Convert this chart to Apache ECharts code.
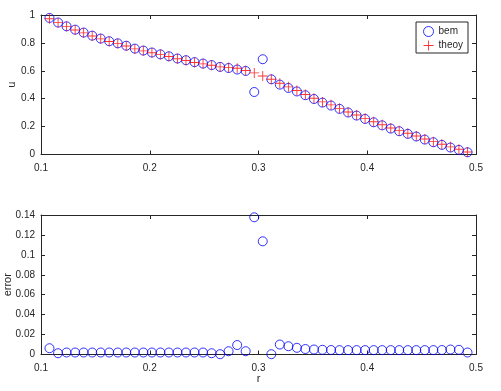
<!DOCTYPE html>
<html>
<head>
<meta charset="utf-8">
<script src="https://cdn.jsdelivr.net/npm/echarts@6/dist/echarts.min.js"></script>
<style>
html,body{margin:0;padding:0;background:#fff;}
#chart{width:501px;height:391px;}
</style>
</head>
<body>
<div id="chart"></div>
<script>
// radial positions r
var rValues = [
  0.1078, 0.1157, 0.1235, 0.1314, 0.1392, 0.1471, 0.1549, 0.1627, 0.1706, 0.1784,
  0.1863, 0.1941, 0.2020, 0.2098, 0.2176, 0.2255, 0.2333, 0.2412, 0.2490, 0.2569,
  0.2647, 0.2725, 0.2804, 0.2882, 0.2961, 0.3039, 0.3118, 0.3196, 0.3275, 0.3353,
  0.3431, 0.3510, 0.3588, 0.3667, 0.3745, 0.3824, 0.3902, 0.3980, 0.4059, 0.4137,
  0.4216, 0.4294, 0.4373, 0.4451, 0.4529, 0.4608, 0.4686, 0.4765, 0.4843, 0.4922
];
// BEM solution u
var bemValues = [
  0.979, 0.946, 0.919, 0.895, 0.874, 0.852, 0.831, 0.812, 0.797, 0.780,
  0.759, 0.745, 0.731, 0.718, 0.704, 0.688, 0.676, 0.662, 0.652, 0.641,
  0.628, 0.620, 0.609, 0.599, 0.448, 0.683, 0.539, 0.501, 0.477, 0.452,
  0.425, 0.398, 0.372, 0.351, 0.327, 0.301, 0.279, 0.255, 0.231, 0.209,
  0.186, 0.167, 0.148, 0.129, 0.107, 0.088, 0.069, 0.050, 0.033, 0.016
];
// theoretical solution u
var theoryValues = [
  0.973, 0.945, 0.917, 0.893, 0.872, 0.850, 0.829, 0.810, 0.795, 0.778,
  0.757, 0.743, 0.729, 0.716, 0.702, 0.686, 0.674, 0.660, 0.650, 0.640,
  0.628, 0.623, 0.618, 0.602, 0.585, 0.563, 0.539, 0.511, 0.485, 0.459,
  0.430, 0.403, 0.377, 0.356, 0.331, 0.305, 0.283, 0.259, 0.235, 0.213,
  0.190, 0.171, 0.152, 0.133, 0.111, 0.092, 0.073, 0.055, 0.038, 0.018
];
// absolute error |bem - theory|
var errorValues = [
  0.0063, 0.0013, 0.0020, 0.0020, 0.0020, 0.0020, 0.0020, 0.0020, 0.0020, 0.0020,
  0.0020, 0.0020, 0.0020, 0.0020, 0.0020, 0.0020, 0.0020, 0.0020, 0.0020, 0.0013,
  0.0003, 0.0033, 0.0095, 0.0033, 0.1377, 0.1136, 0.0003, 0.0100, 0.0083, 0.0067,
  0.0055, 0.0050, 0.0047, 0.0045, 0.0044, 0.0044, 0.0044, 0.0044, 0.0044, 0.0044,
  0.0044, 0.0044, 0.0044, 0.0044, 0.0044, 0.0044, 0.0045, 0.0050, 0.0047, 0.0020
];
var xTicks = [0.1, 0.2, 0.3, 0.4, 0.5];
var uTicks = [0, 0.2, 0.4, 0.6, 0.8, 1];
var errTicks = [0, 0.02, 0.04, 0.06, 0.08, 0.1, 0.12, 0.14];

function pairs(xs, ys) { return xs.map(function (x, i) { return [x, ys[i]]; }); }

var FONT = 'Liberation Sans';
var AX = '#262626';
var plusPath = 'path://M4.55,0h0.9v10h-0.9zM0,4.55h10v0.9h-10z';

function xAxisCfg(gridIndex, showLabels, name) {
  return {
    type: 'value', gridIndex: gridIndex, min: xTicks[0], max: xTicks[xTicks.length - 1], interval: 0.1,
    position: 'bottom',
    axisLine: { show: true, onZero: false, lineStyle: { color: AX, width: 1 } },
    axisTick: { show: true, inside: true, length: 4, lineStyle: { color: AX } },
    axisLabel: { show: showLabels, color: AX, fontFamily: FONT, fontSize: 10, margin: 9,
      formatter: function (v) { return String(+v.toFixed(2)); } },
    splitLine: { show: false },
    name: name || '', nameLocation: 'middle', nameGap: 19, nameMoveOverlap: false,
    nameTextStyle: { color: AX, fontFamily: FONT, fontSize: 11 }
  };
}
function xTopCfg(gridIndex) {
  var c = xAxisCfg(gridIndex, false, '');
  c.position = 'top';
  return c;
}
function yAxisCfg(gridIndex, ticks, step, name, gap) {
  return {
    type: 'value', gridIndex: gridIndex, min: ticks[0], max: ticks[ticks.length - 1], interval: step,
    position: 'left',
    axisLine: { show: true, onZero: false, lineStyle: { color: AX, width: 1 } },
    axisTick: { show: true, inside: true, length: 4, lineStyle: { color: AX } },
    axisLabel: { show: true, color: AX, fontFamily: FONT, fontSize: 10, margin: 6,
      formatter: function (v) { return String(+v.toFixed(2)); } },
    splitLine: { show: false },
    name: name, nameLocation: 'middle', nameGap: gap, nameRotate: 90, nameMoveOverlap: false,
    nameTextStyle: { color: AX, fontFamily: FONT, fontSize: 11 }
  };
}
function yRightCfg(gridIndex, ticks, step) {
  var c = yAxisCfg(gridIndex, ticks, step, '', 0);
  c.position = 'right';
  c.axisLabel = { show: false };
  return c;
}

var chart = echarts.init(document.getElementById('chart'), null, { renderer: 'canvas' });
chart.setOption({
  animation: false,
  backgroundColor: '#ffffff',
  textStyle: { fontFamily: FONT },
  grid: [
    { left: 41, right: 25, top: 15, height: 139.5, containLabel: false, outerBoundsMode: 'none' },
    { left: 41, right: 25, top: 215, height: 139.5, containLabel: false, outerBoundsMode: 'none' }
  ],
  xAxis: [ xAxisCfg(0, true, ''), xTopCfg(0), xAxisCfg(1, true, 'r'), xTopCfg(1) ],
  yAxis: [
    yAxisCfg(0, uTicks, 0.2, 'u', 24), yRightCfg(0, uTicks, 0.2),
    yAxisCfg(1, errTicks, 0.02, 'error', 28), yRightCfg(1, errTicks, 0.02)
  ],
  legend: {
    data: [
      { name: 'bem', icon: 'circle', itemStyle: { color: 'none', borderColor: '#0000ff', borderWidth: 1 } },
      { name: 'theoy', icon: plusPath, itemStyle: { color: '#ff0000' } }
    ],
    orient: 'vertical', right: 33, top: 22,
    itemWidth: 10, itemHeight: 10, itemGap: 1,
    padding: [2, 5, 2, 5],
    borderColor: AX, borderWidth: 1, backgroundColor: '#ffffff',
    textStyle: { color: AX, fontFamily: FONT, fontSize: 10, lineHeight: 11 }
  },
  series: [
    {
      name: 'bem', type: 'scatter', xAxisIndex: 0, yAxisIndex: 0,
      data: pairs(rValues, bemValues), symbol: 'circle', symbolSize: 9,
      itemStyle: { color: 'none', borderColor: '#0000ff', borderWidth: 1 }
    },
    {
      name: 'theoy', type: 'scatter', xAxisIndex: 0, yAxisIndex: 0,
      data: pairs(rValues, theoryValues), symbol: plusPath, symbolSize: 10,
      itemStyle: { color: '#ff0000' }
    },
    {
      name: 'error', type: 'scatter', xAxisIndex: 2, yAxisIndex: 2,
      data: pairs(rValues, errorValues), symbol: 'circle', symbolSize: 9,
      itemStyle: { color: 'none', borderColor: '#0000ff', borderWidth: 1 }
    }
  ]
});
</script>
</body>
</html>
